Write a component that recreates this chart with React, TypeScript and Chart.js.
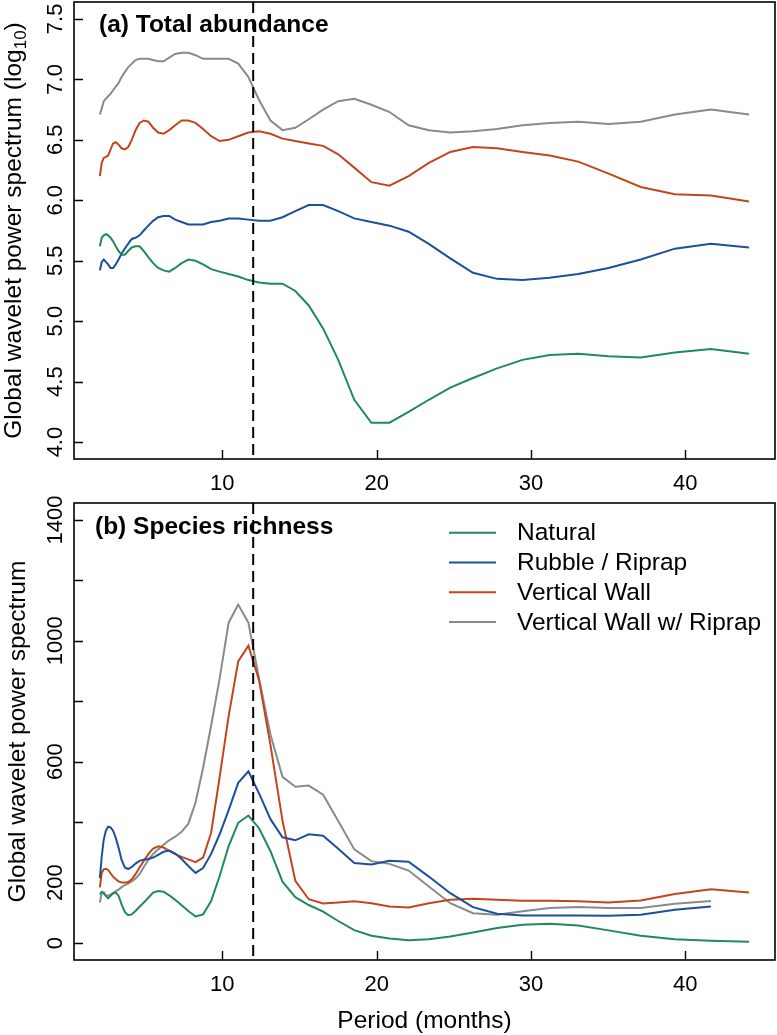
import React, { useEffect, useRef } from 'react';
import { Chart, registerables } from 'chart.js';

Chart.register(...registerables);

// Wavelet periods (months)
const periods = [
  2.066, 2.189, 2.319, 2.457, 2.603, 2.758, 2.922, 3.096, 3.280, 3.475,
  3.681, 3.900, 4.132, 4.378, 4.638, 4.914, 5.206, 5.516, 5.844, 6.191,
  6.559, 6.949, 7.362, 7.800, 8.264, 8.755, 9.276, 9.827, 10.41, 11.03,
  11.69, 12.38, 13.12, 13.90, 14.73, 15.60, 16.53, 17.51, 18.55, 19.66,
  20.83, 22.07, 23.38, 24.77, 26.24, 27.80, 29.45, 31.21, 33.06, 35.03,
  37.11, 39.32, 41.66, 44.13,
];

const seriesNames = ['Natural', 'Rubble / Riprap', 'Vertical Wall', 'Vertical Wall w/ Riprap'];
const seriesColors = ['#1F8A5C', '#1C4F9C', '#C4441C', '#8A8A8A'];

// (a) Total abundance, log10 global wavelet power
const abundNatural = [
  5.62, 5.69, 5.71, 5.72, 5.71, 5.69, 5.66, 5.62, 5.58, 5.55,
  5.55, 5.58, 5.61, 5.62, 5.62, 5.58, 5.53, 5.48, 5.44, 5.42,
  5.41, 5.44, 5.48, 5.51, 5.50, 5.47, 5.43, 5.41, 5.39, 5.37,
  5.34, 5.32, 5.31, 5.31, 5.25, 5.13, 4.94, 4.68, 4.35, 4.16,
  4.16, 4.25, 4.35, 4.45, 4.53, 4.61, 4.68, 4.72, 4.73, 4.71,
  4.70, 4.74, 4.77, 4.73,
];
const abundRubble = [
  5.42, 5.49, 5.51, 5.49, 5.47, 5.44, 5.44, 5.47, 5.51, 5.56,
  5.60, 5.64, 5.68, 5.69, 5.71, 5.75, 5.79, 5.83, 5.86, 5.87,
  5.87, 5.84, 5.82, 5.80, 5.80, 5.80, 5.82, 5.83, 5.85, 5.85,
  5.84, 5.83, 5.83, 5.86, 5.91, 5.96, 5.96, 5.91, 5.85, 5.82,
  5.79, 5.74, 5.64, 5.52, 5.40, 5.35, 5.34, 5.36, 5.39, 5.44,
  5.51, 5.60, 5.64, 5.61,
];
const abundWall = [
  6.20, 6.31, 6.35, 6.36, 6.37, 6.42, 6.47, 6.48, 6.46, 6.43,
  6.42, 6.44, 6.50, 6.58, 6.64, 6.66, 6.65, 6.60, 6.56, 6.55,
  6.58, 6.62, 6.66, 6.66, 6.64, 6.59, 6.53, 6.49, 6.50, 6.53,
  6.56, 6.57, 6.55, 6.51, 6.49, 6.47, 6.45, 6.38, 6.27, 6.15,
  6.12, 6.20, 6.31, 6.40, 6.44, 6.43, 6.40, 6.37, 6.32, 6.22,
  6.11, 6.05, 6.04, 5.99,
];
const abundWallRiprap = [
  6.71, 6.76, 6.82, 6.84, 6.86, 6.88, 6.91, 6.94, 6.97, 7.02,
  7.06, 7.10, 7.13, 7.16, 7.17, 7.17, 7.17, 7.16, 7.15, 7.15,
  7.18, 7.21, 7.22, 7.22, 7.20, 7.17, 7.17, 7.17, 7.17, 7.13,
  7.02, 6.83, 6.66, 6.58, 6.60, 6.67, 6.75, 6.82, 6.84, 6.79,
  6.73, 6.62, 6.58, 6.56, 6.57, 6.59, 6.62, 6.64, 6.65, 6.63,
  6.65, 6.71, 6.75, 6.71,
];

// (b) Species richness, global wavelet power
const richNatural = [
  161, 169, 167, 156, 148, 156, 165, 167, 156, 128,
  103, 92, 95, 106, 120, 134, 150, 167, 172, 170,
  158, 143, 125, 106, 88, 95, 139, 222, 321, 398,
  422, 380, 304, 203, 152, 126, 104, 73, 43, 24,
  15, 9, 13, 22, 35, 50, 61, 64, 58, 42,
  24, 13, 8, 4,
];
const richRubble = [
  215, 288, 343, 372, 385, 383, 372, 348, 315, 275,
  250, 245, 252, 263, 272, 276, 278, 283, 292, 302,
  306, 296, 278, 255, 232, 248, 295, 360, 440, 530,
  568, 495, 410, 350, 340, 360, 355, 312, 265, 260,
  272, 269, 220, 165, 119, 97, 91, 91, 91, 90,
  94, 110, 121,
];
const richWall = [
  184, 233, 244, 246, 242, 231, 220, 211, 204, 200,
  200, 202, 211, 228, 250, 272, 294, 313, 320, 316,
  305, 294, 285, 277, 268, 283, 365, 550, 751, 932,
  984, 870, 655, 405, 206, 145, 131, 134, 138, 132,
  121, 118, 132, 143, 147, 143, 140, 140, 138, 134,
  141, 162, 178, 167,
];
const richWallRiprap = [
  134, 168, 163, 158, 157, 160, 165, 172, 177, 185,
  192, 197, 204, 214, 228, 252, 275, 295, 310, 325,
  340, 352, 368, 395, 465, 580, 720, 875, 1060, 1120,
  1060, 875, 690, 550, 517, 521, 491, 404, 310, 271,
  262, 240, 187, 132, 99, 94, 105, 116, 119, 116,
  116, 130, 139,
];

const xTicks = [10, 20, 30, 40];
const xTickLabels = ['10', '20', '30', '40'];
const abundTicks = [4.0, 4.5, 5.0, 5.5, 6.0, 6.5, 7.0, 7.5];
const abundTickLabels = ['4.0', '4.5', '5.0', '5.5', '6.0', '6.5', '7.0', '7.5'];
const richTicks = [0, 200, 400, 600, 800, 1000, 1200, 1400];
const richTickLabels = ['0', '200', '', '600', '', '1000', '', '1400'];
const markerPeriod = 12;

const FONT = '"Liberation Sans", Arial, Helvetica, sans-serif';
const TXT = 24.5;

type Decor = {
  offsetY: number;
  yTicks: number[];
  yTickLabels: string[];
  xLabelBaseline: number;
  yTitle: string;
  yTitleSub?: string;
  yTitleBaselineX: number;
  panelTitle: string;
  panelTitleX: number;
  panelTitleBaseline: number;
  legend?: boolean;
  xTitle?: string;
  xTitleBaseline?: number;
};

function makeDecorPlugin(d: Decor) {
  return {
    id: 'decor',
    afterDatasetsDraw(chart: any) {
      const ctx: CanvasRenderingContext2D = chart.ctx;
      const { left, right, top, bottom } = chart.chartArea;
      const xs = chart.scales.x;
      const ys = chart.scales.y;
      const oy = d.offsetY;
      ctx.save();
      ctx.strokeStyle = '#000';
      ctx.fillStyle = '#000';

      // dashed reference line at 12 months
      const xm = xs.getPixelForValue(markerPeriod);
      ctx.lineWidth = 2;
      ctx.setLineDash([11, 6]);
      ctx.beginPath();
      ctx.moveTo(xm, top);
      ctx.lineTo(xm, bottom);
      ctx.stroke();
      ctx.setLineDash([]);

      // box
      ctx.lineWidth = 1.6;
      ctx.strokeRect(left, top, right - left, bottom - top);

      // inward tick marks
      ctx.lineWidth = 1.4;
      ctx.beginPath();
      xTicks.forEach((v) => {
        const px = Math.round(xs.getPixelForValue(v)) + 0.5;
        ctx.moveTo(px, bottom);
        ctx.lineTo(px, bottom - 9);
      });
      d.yTicks.forEach((v) => {
        const py = Math.round(ys.getPixelForValue(v)) + 0.5;
        ctx.moveTo(left, py);
        ctx.lineTo(left + 9, py);
      });
      ctx.stroke();

      // x tick labels
      ctx.font = `22px ${FONT}`;
      ctx.textAlign = 'center';
      ctx.textBaseline = 'alphabetic';
      xTicks.forEach((v, i) => {
        ctx.fillText(xTickLabels[i], xs.getPixelForValue(v), d.xLabelBaseline - oy);
      });

      // y tick labels (rotated)
      d.yTicks.forEach((v, i) => {
        const lab = d.yTickLabels[i];
        if (!lab) return;
        ctx.save();
        ctx.translate(62, ys.getPixelForValue(v));
        ctx.rotate(-Math.PI / 2);
        ctx.fillText(lab, 0, 0);
        ctx.restore();
      });

      // y axis title
      ctx.save();
      const cy = (top + bottom) / 2;
      ctx.translate(d.yTitleBaselineX, cy);
      ctx.rotate(-Math.PI / 2);
      ctx.textAlign = 'left';
      ctx.font = `${TXT}px ${FONT}`;
      if (d.yTitleSub) {
        const main = d.yTitle;
        const w1 = ctx.measureText(main).width;
        const w3 = ctx.measureText(')').width;
        ctx.font = `17px ${FONT}`;
        const w2 = ctx.measureText(d.yTitleSub).width;
        const total = w1 + w2 + w3;
        let x0 = -total / 2;
        ctx.font = `${TXT}px ${FONT}`;
        ctx.fillText(main, x0, 0);
        x0 += w1;
        ctx.font = `17px ${FONT}`;
        ctx.fillText(d.yTitleSub, x0, 5);
        x0 += w2;
        ctx.font = `${TXT}px ${FONT}`;
        ctx.fillText(')', x0, 0);
      } else {
        ctx.textAlign = 'center';
        ctx.fillText(d.yTitle, 0, 0);
      }
      ctx.restore();

      // panel title
      ctx.font = `bold ${TXT}px ${FONT}`;
      ctx.textAlign = 'left';
      ctx.fillText(d.panelTitle, d.panelTitleX, d.panelTitleBaseline - oy);

      // legend
      if (d.legend) {
        const rows = [532.7, 562.5, 592.3, 622.1];
        ctx.font = `${TXT}px ${FONT}`;
        ctx.textBaseline = 'middle';
        seriesNames.forEach((name, i) => {
          const ry = rows[i] - oy;
          ctx.strokeStyle = seriesColors[i];
          ctx.lineWidth = 2;
          ctx.beginPath();
          ctx.moveTo(449, ry);
          ctx.lineTo(496, ry);
          ctx.stroke();
          ctx.fillStyle = '#000';
          ctx.fillText(name, 517, ry + 1);
        });
        ctx.textBaseline = 'alphabetic';
      }

      // x axis title
      if (d.xTitle) {
        ctx.font = `${TXT}px ${FONT}`;
        ctx.textAlign = 'center';
        ctx.fillStyle = '#000';
        ctx.fillText(d.xTitle, (left + right) / 2, (d.xTitleBaseline || 0) - oy);
      }
      ctx.restore();
    },
  };
}

function toPoints(vals: number[]) {
  return vals.map((v, i) => ({ x: periods[i], y: v }));
}

function makeDatasets(list: number[][]) {
  return list.map((vals, i) => ({
    label: seriesNames[i],
    data: toPoints(vals),
    borderColor: seriesColors[i],
    backgroundColor: seriesColors[i],
    borderWidth: 2,
    pointRadius: 0,
    tension: 0,
    fill: false,
  }));
}

function baseOptions(ymin: number, ymax: number, padding: any) {
  return {
    responsive: false,
    animation: false as const,
    devicePixelRatio: 1,
    layout: { padding },
    plugins: { legend: { display: false }, tooltip: { enabled: false } },
    scales: {
      x: { type: 'linear' as const, min: 0.39, max: 45.81, display: false },
      y: { type: 'linear' as const, min: ymin, max: ymax, display: false },
    },
  };
}

const A_TOP = 0;
const A_H = 500;
const B_TOP = 490;
const B_H = 545;

export default function App() {
  const refA = useRef<HTMLCanvasElement>(null);
  const refB = useRef<HTMLCanvasElement>(null);

  useEffect(() => {
    const chartA = new Chart(refA.current as HTMLCanvasElement, {
      type: 'line',
      data: { datasets: makeDatasets([abundNatural, abundRubble, abundWall, abundWallRiprap]) as any },
      options: baseOptions(3.86, 7.64, { left: 74, right: 2, top: 2 - A_TOP, bottom: A_TOP + A_H - 459 }) as any,
      plugins: [
        makeDecorPlugin({
          offsetY: A_TOP,
          yTicks: abundTicks,
          yTickLabels: abundTickLabels,
          xLabelBaseline: 489.5,
          yTitle: 'Global wavelet power spectrum (log',
          yTitleSub: '10',
          yTitleBaselineX: 20.5,
          panelTitle: '(a) Total abundance',
          panelTitleX: 99,
          panelTitleBaseline: 32,
        }),
      ],
    });
    const chartB = new Chart(refB.current as HTMLCanvasElement, {
      type: 'line',
      data: { datasets: makeDatasets([richNatural, richRubble, richWall, richWallRiprap]) as any },
      options: baseOptions(-56, 1456, { left: 74, right: 2, top: 503 - B_TOP, bottom: B_TOP + B_H - 960 }) as any,
      plugins: [
        makeDecorPlugin({
          offsetY: B_TOP,
          yTicks: richTicks,
          yTickLabels: richTickLabels,
          xLabelBaseline: 990.7,
          yTitle: 'Global wavelet power spectrum',
          yTitleBaselineX: 24.5,
          panelTitle: '(b) Species richness',
          panelTitleX: 95,
          panelTitleBaseline: 534,
          legend: true,
          xTitle: 'Period (months)',
          xTitleBaseline: 1028,
        }),
      ],
    });
    return () => {
      chartA.destroy();
      chartB.destroy();
    };
  }, []);

  return (
    <div style={{ position: 'absolute', left: 0, top: 0, width: 777, height: 1035, background: '#fff', overflow: 'hidden' }}>
      <canvas
        ref={refA}
        width={777}
        height={A_H}
        style={{ position: 'absolute', left: 0, top: A_TOP, width: 777, height: A_H }}
      />
      <canvas
        ref={refB}
        width={777}
        height={B_H}
        style={{ position: 'absolute', left: 0, top: B_TOP, width: 777, height: B_H }}
      />
    </div>
  );
}
